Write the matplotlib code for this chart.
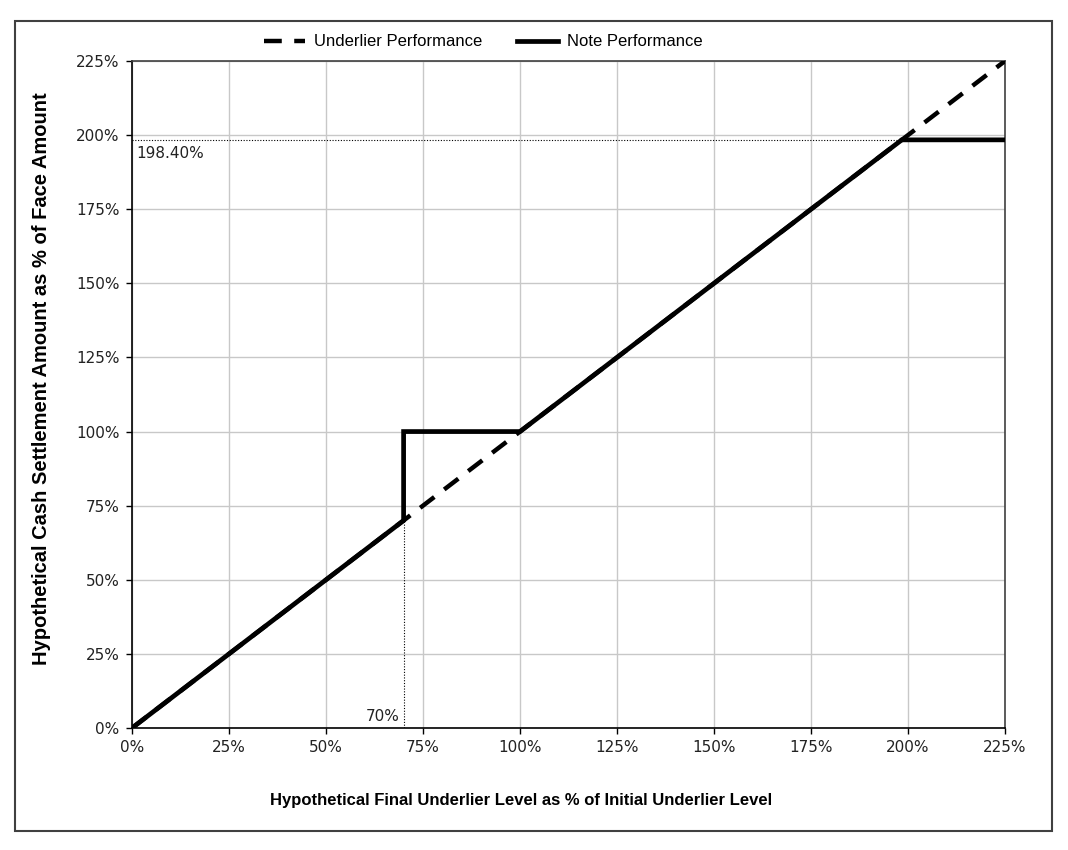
import matplotlib
matplotlib.use("Agg")
import matplotlib.pyplot as plt
import matplotlib.patches as mpatches
from matplotlib.ticker import FuncFormatter

# Payoff data (values in % of initial level / face amount)
underlier_x = [0, 225]
underlier_y = [0, 225]

note_x = [0, 70, 70, 100, 198.4, 225]
note_y = [0, 70, 100, 100, 198.4, 198.4]

cap_level = 198.4
barrier_level = 70

ticks = [0, 25, 50, 75, 100, 125, 150, 175, 200, 225]

LABEL_FONT = "Liberation Sans"
TICK_FONT = "DejaVu Sans"
W, H = 1068, 850

fig = plt.figure(figsize=(W / 100, H / 100), dpi=100)
ax = fig.add_axes([132 / W, 1 - 728 / H, (1005 - 132) / W, (728 - 61) / H])

# outer frame
fig.patches.append(mpatches.Rectangle((15 / W, 1 - 831 / H), (1052 - 15) / W, (831 - 21) / H,
                                      transform=fig.transFigure, fill=False,
                                      edgecolor="#404040", linewidth=1.5))

ax.plot(underlier_x, underlier_y, color="black", linewidth=3.2,
        linestyle=(0, (4, 2.8)), label="Underlier Performance", zorder=3)
ax.plot(note_x, note_y, color="black", linewidth=3.4,
        solid_joinstyle="miter", label="Note Performance", zorder=4)

# reference dotted lines
ax.plot([0, cap_level], [cap_level, cap_level], color="black", linewidth=0.8,
        linestyle=(0, (1, 1.5)), zorder=2)
ax.plot([barrier_level, barrier_level], [0, barrier_level], color="black", linewidth=0.8,
        linestyle=(0, (1, 1.5)), zorder=2)
ax.text(1, cap_level - 2, f"{cap_level:.2f}%", ha="left", va="top",
        fontsize=11, family=TICK_FONT, color="#222222")
ax.text(barrier_level - 1, 1.5, f"{barrier_level}%", ha="right", va="bottom",
        fontsize=11, family=TICK_FONT, color="#222222")

ax.set_xlim(0, 225)
ax.set_ylim(0, 225)
ax.set_xticks(ticks)
ax.set_yticks(ticks)
pct = FuncFormatter(lambda v, p: f"{v:.0f}%")
ax.xaxis.set_major_formatter(pct)
ax.yaxis.set_major_formatter(pct)
for lab in ax.get_xticklabels() + ax.get_yticklabels():
    lab.set_family(TICK_FONT)
    lab.set_fontsize(11)
    lab.set_color("#222222")
ax.tick_params(direction="out", length=4, width=1, color="black", pad=5)
ax.tick_params(axis="both", which="both", top=False, right=False)

ax.grid(True, color="#c8c8c8", linewidth=1.0)
ax.set_axisbelow(True)
for side in ["left", "bottom"]:
    ax.spines[side].set_color("black")
    ax.spines[side].set_linewidth(1.2)
for side in ["top", "right"]:
    ax.spines[side].set_color("#404040")
    ax.spines[side].set_linewidth(1.2)

fig.text(521 / W, 1 - 801 / H,
         "Hypothetical Final Underlier Level as % of Initial Underlier Level",
         ha="center", va="center", fontsize=12, fontweight="bold", family=LABEL_FONT)
fig.text(42 / W, 1 - 379 / H,
         "Hypothetical Cash Settlement Amount as % of Face Amount",
         ha="center", va="center", rotation=90, fontsize=14.5, fontweight="bold",
         family=LABEL_FONT)

leg = fig.legend(*ax.get_legend_handles_labels(), loc="center",
                 bbox_to_anchor=(483 / W, 1 - 42 / H), ncol=2, frameon=False,
                 prop={"family": LABEL_FONT, "size": 12}, handlelength=2.5,
                 handletextpad=0.5, columnspacing=2.1, borderpad=0)

fig.savefig("out.png", dpi=100, facecolor="white")
